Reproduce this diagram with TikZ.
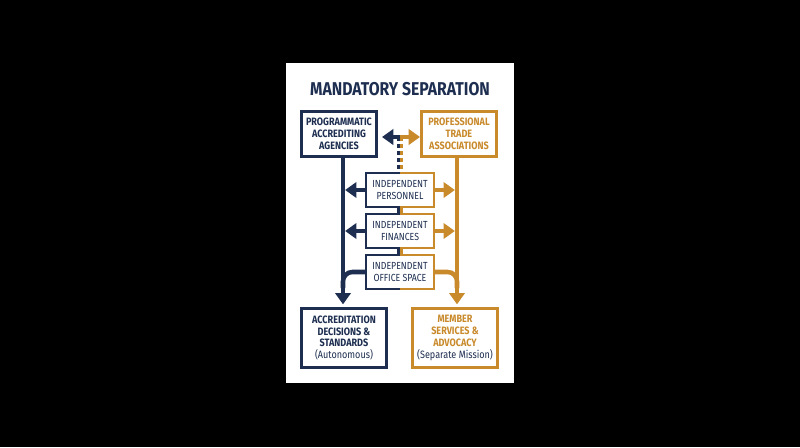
\documentclass[tikz,border=0pt]{standalone}
\usepackage{fontspec}
\setmainfont{Fira Sans}[FakeStretch=0.85]
\usetikzlibrary{arrows.meta,calc}
\definecolor{navy}{HTML}{1D2E50}
\definecolor{gold}{HTML}{C98A2C}
\begin{document}
\begin{tikzpicture}[x=0.75pt,y=-0.75pt,
  bw/.style={line width=2pt},
  txt/.style={align=center,inner sep=0pt,font=\bfseries\fontsize{8}{8.8}\selectfont},
  bigbox/.style={txt,draw,bw,fill=white,minimum width=56.5pt,minimum height=34pt},
  endbox/.style={txt,draw,bw,fill=white,minimum width=64pt,minimum height=44.5pt},
  midbox/.style={align=center,inner sep=0pt,font=\fontsize{7.7}{8.8}\selectfont,text=navy,minimum width=50.5pt,minimum height=25pt},
  shaft/.style={line width=3.4pt},
  arr/.style={shaft,-{Triangle[width=11.5pt,length=8.5pt]}},
  dashline/.style={line width=2.4pt,dash pattern=on 3pt off 2.2pt},
  bar/.style={line width=2.4pt},
  titlestyle/.style={font=\bfseries\fontsize{13.9}{16}\selectfont,text=navy,inner sep=0pt}
]
\useasboundingbox (0,0) rectangle (800,447);
\fill[black] (0,0) rectangle (800,447);
\fill[white] (286,63) rectangle (514,383);

\node[titlestyle] (title) at (400,89) {MANDATORY SEPARATION};

\coordinate (nx) at (343,0);
\coordinate (gx) at (457,0);
\coordinate (j) at (400,137);

% middle boxes (text only, borders drawn below)
\node[midbox] (pers) at (400,190) {INDEPENDENT\\PERSONNEL};
\node[midbox] (fin) at (400,231) {INDEPENDENT\\FINANCES};
\node[midbox] (off) at (400,272) {INDEPENDENT\\OFFICE SPACE};

% top and bottom boxes (positions)
\path (339,134) coordinate (ltc) (459,134) coordinate (rtc)
      (344,338) coordinate (lbc) (455,338) coordinate (rbc);

% vertical trunks
\draw[navy,arr,shorten >=2pt] (nx |- ltc) -- ($(nx |- lbc)+(0,-31)$) coordinate (nend);
\draw[gold,arr,shorten >=2pt] (gx |- rtc) -- ($(gx |- rbc)+(0,-31)$) coordinate (gend);

% dashed link between top boxes
\draw[navy,dashline] ($(j)+(-1.7,0)$) -- ($(pers.north)+(-1.7,-1.5)$);
\draw[gold,dashline] ($(j)+(1.7,0)$) -- ($(pers.north)+(1.7,-1.5)$);

% connector bars between middle boxes
\draw[navy,bar] ($(pers.south)+(-1.7,0)$) -- ($(fin.north)+(-1.7,0)$);
\draw[gold,bar] ($(pers.south)+(1.7,0)$) -- ($(fin.north)+(1.7,0)$);
\draw[navy,bar] ($(fin.south)+(-1.7,0)$) -- ($(off.north)+(-1.7,0)$);
\draw[gold,bar] ($(fin.south)+(1.7,0)$) -- ($(off.north)+(1.7,0)$);

% top arrows
\draw[navy,arr] (j) -- ($(j)+(-18,0)$);
\draw[gold,arr] (j) -- ($(j)+(20,0)$);

% horizontal arrows from middle boxes
\draw[navy,arr,shorten >=1.6pt] (pers.west) -- (nx |- pers.west);
\draw[gold,arr,shorten >=1.6pt] (pers.east) -- (gx |- pers.east);
\draw[navy,arr,shorten >=1.6pt] (fin.west) -- (nx |- fin.west);
\draw[gold,arr,shorten >=1.6pt] (fin.east) -- (gx |- fin.east);

% office branches merging into trunks
\draw[navy,shaft,rounded corners=7pt] (off.west) -- (nx |- off.west) -- ($(nx |- off.west)+(0,16)$);
\draw[gold,shaft,rounded corners=7pt] (off.east) -- (gx |- off.east) -- ($(gx |- off.east)+(0,16)$);

% two-coloured borders of the middle boxes
\foreach \b in {pers,fin,off}{
  \draw[navy,bw,line join=miter] (\b.north) -- (\b.north west) -- (\b.south west) -- (\b.south);
  \draw[gold,bw,line join=miter] (\b.north) -- (\b.north east) -- (\b.south east) -- (\b.south);
}

% top boxes
\node[bigbox,draw=navy,text=navy] (lt) at (ltc) {PROGRAMMATIC\\ACCREDITING\\AGENCIES};
\node[bigbox,draw=gold,text=gold] (rt) at (rtc) {PROFESSIONAL\\TRADE\\ASSOCIATIONS};

% bottom boxes
\node[endbox,draw=navy,text=navy] (lb) at (lbc) {ACCREDITATION\\DECISIONS \&\\STANDARDS\\{\mdseries (Autonomous)}};
\node[endbox,draw=gold,text=gold] (rb) at (rbc) {MEMBER\\SERVICES \&\\ADVOCACY\\{\mdseries\color{navy}(Separate Mission)}};
\end{tikzpicture}
\end{document}
